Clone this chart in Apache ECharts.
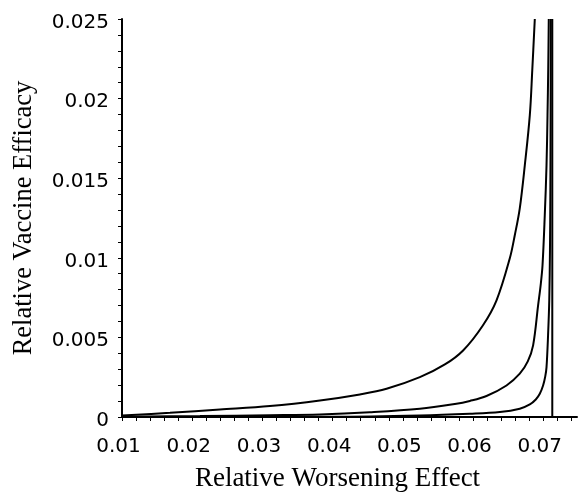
<!DOCTYPE html>
<html>
<head>
<meta charset="utf-8">
<script src="https://cdn.jsdelivr.net/npm/echarts@6/dist/echarts.min.js"></script>
<style>
html,body{margin:0;padding:0;background:#fff;}
#chart{width:581px;height:493px;}
</style>
</head>
<body>
<div id="chart"></div>
<script>
// Curve data (x: relative worsening effect, y: relative vaccine efficacy)
const curve1X = [0.01000, 0.01683, 0.02395, 0.03107, 0.03819, 0.04388, 0.04768, 0.05242, 0.05598, 0.05858, 0.06139, 0.06334, 0.06523, 0.06594, 0.06665, 0.06737, 0.06808, 0.06843, 0.06879];
const curve1Y = [0.00009, 0.00026, 0.00047, 0.00069, 0.00104, 0.00142, 0.00177, 0.00250, 0.00330, 0.00418, 0.00575, 0.00733, 0.00997, 0.01142, 0.01311, 0.01582, 0.01896, 0.02179, 0.02500];

const curve2X = [0.01000, 0.02110, 0.03107, 0.03819, 0.04530, 0.05242, 0.05740, 0.05954, 0.06191, 0.06476, 0.06665, 0.06779, 0.06855, 0.06926, 0.06962, 0.06989, 0.07021, 0.07046, 0.07060, 0.07070, 0.07078];
const curve2Y = [0.00002, 0.00006, 0.00011, 0.00016, 0.00030, 0.00052, 0.00082, 0.00101, 0.00132, 0.00198, 0.00272, 0.00349, 0.00450, 0.00701, 0.00827, 0.00953, 0.01267, 0.01582, 0.01896, 0.02179, 0.02500];

const curve3X = [0.01000, 0.04004, 0.05242, 0.05954, 0.06381, 0.06665, 0.06808, 0.06893, 0.06950, 0.06997, 0.07028, 0.07046, 0.07068, 0.07085, 0.07095, 0.07100, 0.07104, 0.07107];
const curve3Y = [0.00000, 0.00001, 0.00009, 0.00020, 0.00031, 0.00052, 0.00079, 0.00110, 0.00146, 0.00198, 0.00255, 0.00313, 0.00513, 0.00733, 0.01047, 0.01362, 0.01865, 0.02500];

const asymptoteX = [0.07128, 0.07128];
const asymptoteY = [0.0, 0.025];

const xTickValues = [0.01, 0.02, 0.03, 0.04, 0.05, 0.06, 0.07];
const xTickLabels = ['0.01', '0.02', '0.03', '0.04', '0.05', '0.06', '0.07'];
const yTickValues = [0, 0.005, 0.01, 0.015, 0.02, 0.025];
const yTickLabels = ['0', '0.005', '0.01', '0.015', '0.02', '0.025'];

const xName = 'Relative Worsening Effect';
const yName = 'Relative Vaccine Efficacy';

function zip(xs, ys) { return xs.map((x, i) => [x, ys[i]]); }
function labelFor(values, labels) {
  return function (v) {
    for (let i = 0; i < values.length; i++) {
      if (Math.abs(values[i] - v) < 1e-9) return labels[i];
    }
    return '';
  };
}

const chart = echarts.init(document.getElementById('chart'), null, { renderer: 'canvas' });
const lineStyle = { color: '#000', width: 2 };
const mkSeries = (data) => ({
  type: 'line', data: data, showSymbol: false, symbol: 'none', smooth: 0.35,
  lineStyle: lineStyle, animation: false, clip: true
});

chart.setOption({
  backgroundColor: '#fff',
  animation: false,
  grid: { left: 122, right: 4, top: 19, bottom: 76, containLabel: false, outerBoundsMode: 'none' },
  xAxis: {
    type: 'value', min: 0.01, max: 0.0748, interval: 0.002,
    name: xName, nameLocation: 'middle', nameGap: 48,
    nameTextStyle: { fontFamily: 'Liberation Serif', fontSize: 27, color: '#000', padding: [0, 24, 0, 0] },
    axisLine: { show: true, onZero: false, lineStyle: { color: '#000', width: 2 } },
    axisTick: { show: true, inside: false, length: 4, lineStyle: { color: '#000', width: 1 } },
    axisLabel: { show: true, margin: 20, fontFamily: 'DejaVu Sans', fontSize: 20, color: '#000',
                 padding: [0, 7, 0, 0],
                 formatter: labelFor(xTickValues, xTickLabels), showMaxLabel: false },
    splitLine: { show: false }
  },
  yAxis: {
    type: 'value', min: 0, max: 0.025, interval: 0.001,
    name: yName, nameLocation: 'middle', nameGap: 84,
    nameTextStyle: { fontFamily: 'Liberation Serif', fontSize: 26.5, color: '#000' },
    axisLine: { show: true, onZero: false, lineStyle: { color: '#000', width: 2 } },
    axisTick: { show: true, inside: false, length: 4, lineStyle: { color: '#000', width: 1 } },
    axisLabel: { show: true, margin: 13, fontFamily: 'DejaVu Sans', fontSize: 20, color: '#000',
                 verticalAlign: 'top', lineHeight: 7,
                 formatter: labelFor(yTickValues, yTickLabels) },
    splitLine: { show: false }
  },
  series: [
    mkSeries(zip(curve1X, curve1Y)),
    mkSeries(zip(curve2X, curve2Y)),
    mkSeries(zip(curve3X, curve3Y)),
    { type: 'line', data: zip(asymptoteX, asymptoteY), showSymbol: false, symbol: 'none',
      lineStyle: lineStyle, animation: false }
  ]
});
</script>
</body>
</html>
